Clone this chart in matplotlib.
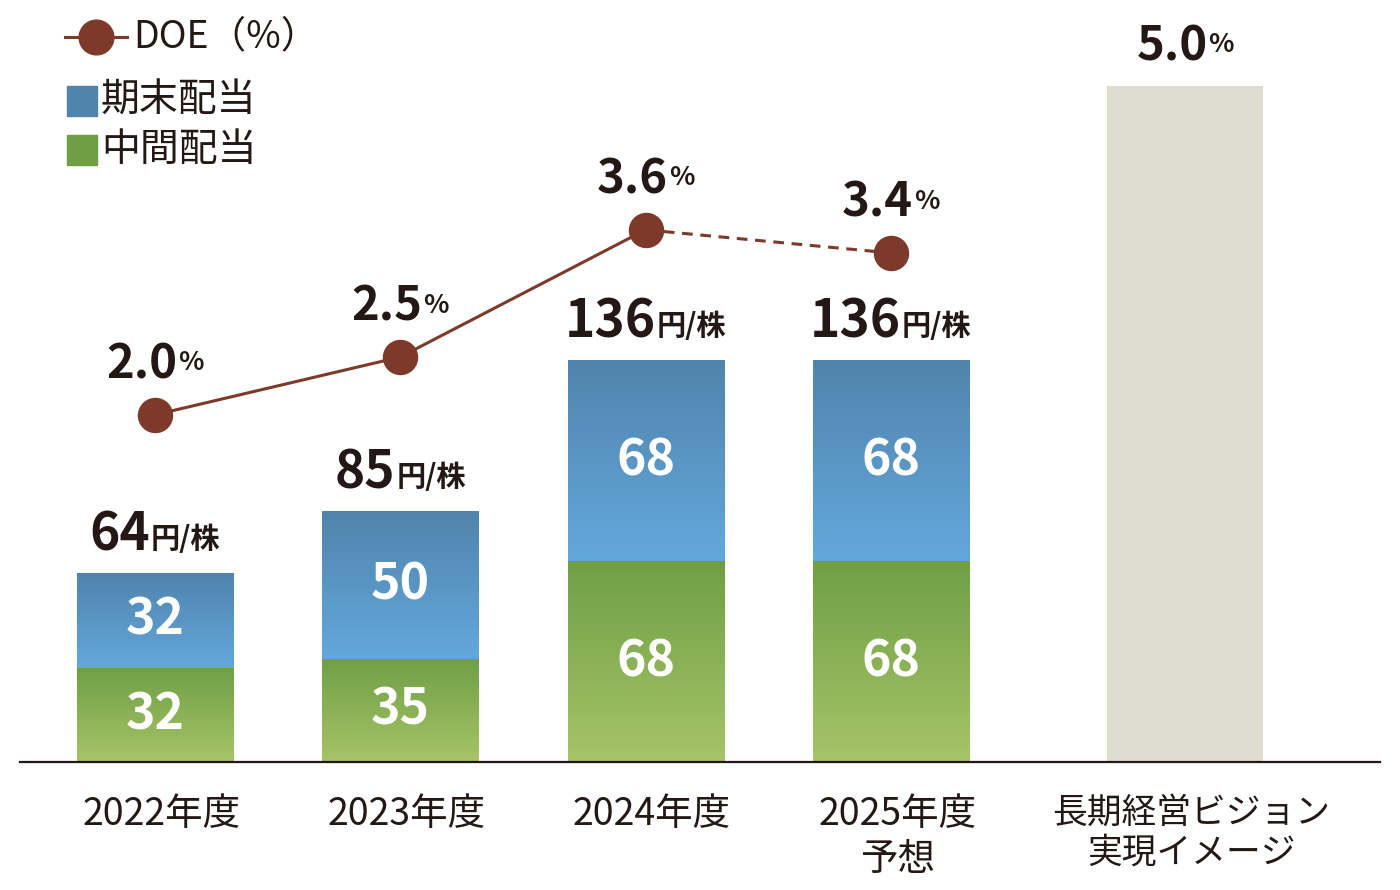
"""Dividend per share (stacked) with DOE line, Japanese IR style chart."""

import matplotlib
matplotlib.use("Agg")
import matplotlib.pyplot as plt
import matplotlib.transforms as mtransforms
import numpy as np
from matplotlib.colors import LinearSegmentedColormap
from matplotlib.lines import Line2D
from matplotlib.patches import Rectangle

FONT = ["Noto Sans CJK JP", "DejaVu Sans"]
plt.rcParams["font.family"] = FONT

CATEGORIES = ["2022年度", "2023年度", "2024年度", "2025年度\n予想", "長期経営ビジョン\n実現イメージ"]
INTERIM = [32, 35, 68, 68]        # 中間配当
YEAR_END = [32, 50, 68, 68]       # 期末配当
DOE = [2.0, 2.5, 3.6, 3.4]        # %
VISION_DOE = 5.0
VISION_BAR = 229                  # illustrative bar height (yen scale)

TEXT = "#231815"
BROWN = "#7d3a2b"
BLUE_TOP, BLUE_BOTTOM = "#5084ac", "#63a8dc"
GREEN_TOP, GREEN_BOTTOM = "#6f9f45", "#a7c468"
VISION_COLOR = "#dcdccf"

W, H, DPI = 1400, 890, 100


def fx(px):
    return px / W


def fy(py):
    return 1 - py / H


def gradient(ax, patch, top, bottom):
    x, y = patch.get_x(), patch.get_y()
    w, h = patch.get_width(), patch.get_height()
    cmap = LinearSegmentedColormap.from_list("g", [bottom, top])
    grad = np.linspace(0, 1, 256).reshape(-1, 1)
    ax.imshow(grad, extent=[x, x + w, y, y + h], origin="lower",
              aspect="auto", cmap=cmap, zorder=2, interpolation="bilinear")
    patch.set_visible(False)


def two_size_label(ax, x, y, big, small, big_size, small_size, dy, lift, sep=0.5):
    """Big bold number + small suffix, centred as a whole over (x, y)."""
    kw = dict(xycoords="data", textcoords="offset points", ha="left",
              va="baseline", color=TEXT, fontweight="bold", zorder=5)
    t1 = ax.annotate(big, (x, y), xytext=(0, dy), fontsize=big_size, **kw)
    t2 = ax.annotate(small, (x, y), xytext=(0, dy), fontsize=small_size, **kw)
    r = fig.canvas.get_renderer()
    w1 = t1.get_window_extent(r).width * 72 / DPI
    w2 = t2.get_window_extent(r).width * 72 / DPI
    left = -(w1 + sep + w2) / 2
    t1.xyann = (left, dy)
    t2.xyann = (left + w1 + sep, dy + lift)


fig = plt.figure(figsize=(W / DPI, H / DPI), dpi=DPI)
ax = fig.add_axes([fx(20), 1 - 762 / H, fx(1360), 762 / H])

xs = np.array([0, 1, 2, 3, 4.2])
n = len(INTERIM)
width = 0.636

green = ax.bar(xs[:n], INTERIM, width=width)
blue = ax.bar(xs[:n], YEAR_END, width=width, bottom=INTERIM)
vision = ax.bar(xs[n], VISION_BAR, width=width, color=VISION_COLOR, zorder=2)

for p in green:
    gradient(ax, p, GREEN_TOP, GREEN_BOTTOM)
for p in blue:
    gradient(ax, p, BLUE_TOP, BLUE_BOTTOM)

ax.set_xlim(-0.550, 4.994)
ax.set_ylim(0, 762 / 2.95)

for i in range(n):
    ax.text(xs[i], INTERIM[i] / 2, f"{INTERIM[i]}", ha="center", va="center",
            color="white", fontsize=36, fontweight="bold", zorder=4)
    ax.text(xs[i], INTERIM[i] + YEAR_END[i] / 2, f"{YEAR_END[i]}", ha="center",
            va="center", color="white", fontsize=36, fontweight="bold", zorder=4)
    total = INTERIM[i] + YEAR_END[i]
    two_size_label(ax, xs[i], total, f"{total}", "円/株", 37, 21, 16.5, 2)

two_size_label(ax, xs[n], VISION_BAR, f"{VISION_DOE:.1f}", "%", 34, 19, 19, 6)

ax.set_yticks([])
ax.set_xticks(xs, CATEGORIES, fontsize=27, color=TEXT, linespacing=1.2)
ax.tick_params(axis="x", length=0, pad=24)
shift = mtransforms.ScaledTranslation(4.5 / 72, 0, fig.dpi_scale_trans)
for lab in ax.get_xticklabels():
    lab.set_transform(lab.get_transform() + shift)
ax.get_xticklabels()[-1].set_fontsize(25)
for s in ("top", "left", "right"):
    ax.spines[s].set_visible(False)
ax.spines["bottom"].set_color(TEXT)
ax.spines["bottom"].set_linewidth(1.6)
ax.set_facecolor("none")

ax2 = ax.twinx()
ax2.set_ylim(-1.003, 5.588)
ax2.set_yticks([])
for s in ax2.spines.values():
    s.set_visible(False)
ax2.plot(xs[:3], DOE[:3], color=BROWN, lw=2.2, zorder=3)
ax2.plot(xs[2:4], DOE[2:4], color=BROWN, lw=2.2, ls=(0, (3.5, 2.5)), zorder=3)
ax2.plot(xs[:n], DOE, ls="none", marker="o", ms=24.5, color=BROWN, zorder=4)
for i in range(n):
    two_size_label(ax2, xs[i], DOE[i], f"{DOE[i]:.1f}", "%", 34, 19, 26, 6)

# legend, drawn by hand
fig.add_artist(Line2D([fx(65), fx(127)], [fy(37), fy(37)], color=BROWN, lw=2.2))
fig.add_artist(Line2D([fx(96)], [fy(37)], marker="o", ms=25, color=BROWN))
fig.text(fx(133), fy(37), "DOE（%）", fontsize=27, color=TEXT, va="center")
fig.add_artist(Rectangle((fx(67), fy(116)), fx(30), 30 / H, color=BLUE_TOP))
fig.text(fx(101), fy(101), "期末配当", fontsize=28, color=TEXT, va="center")
fig.add_artist(Rectangle((fx(67), fy(165)), fx(30), 30 / H, color=GREEN_TOP))
fig.text(fx(101), fy(150), "中間配当", fontsize=28, color=TEXT, va="center")

fig.savefig("out.png", dpi=DPI)
